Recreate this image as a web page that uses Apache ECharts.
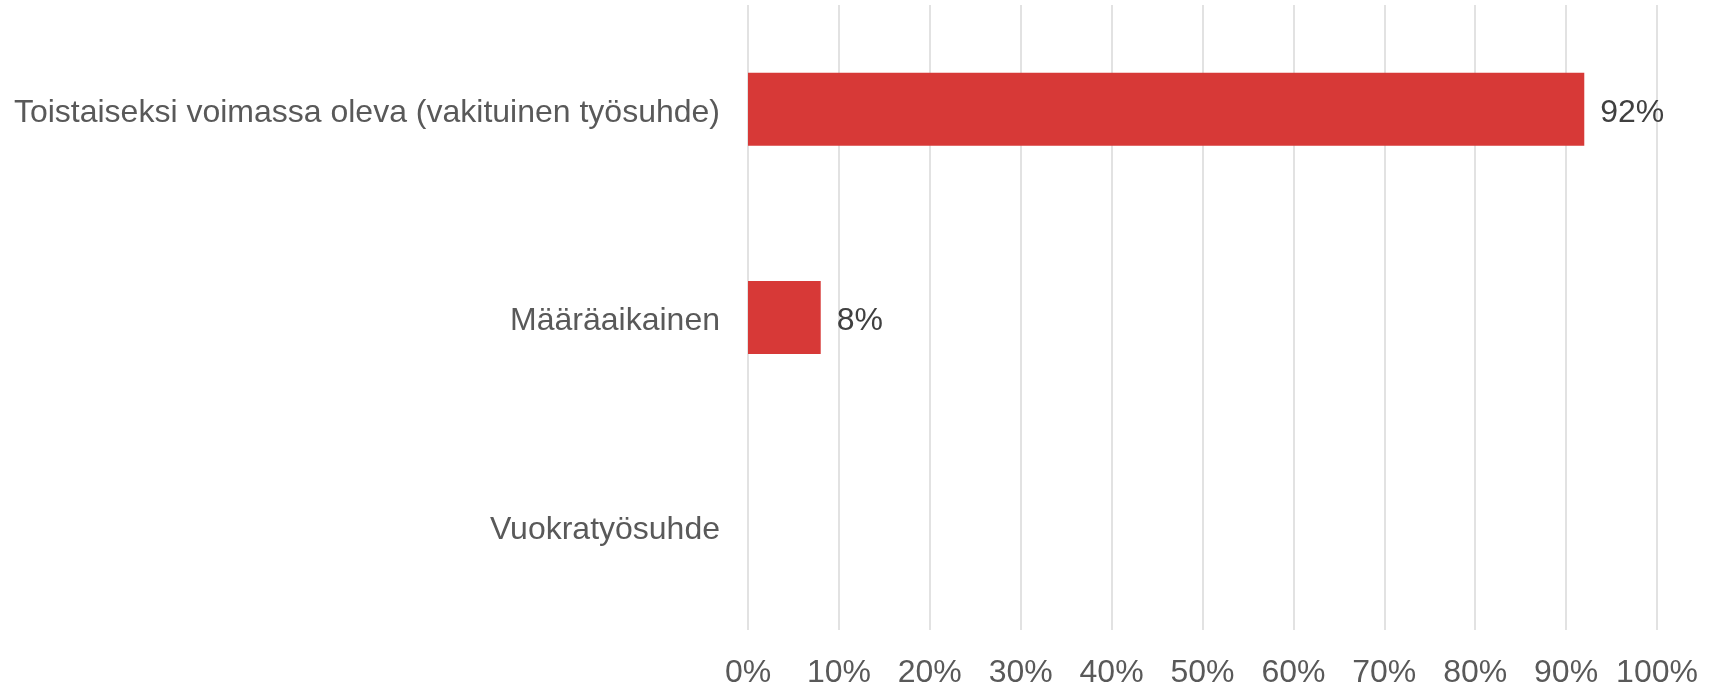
<!DOCTYPE html>
<html>
<head>
<meta charset="utf-8">
<script src="https://cdn.jsdelivr.net/npm/echarts@6/dist/echarts.min.js"></script>
<style>
  html, body { margin: 0; padding: 0; background: #fff; }
  #chart { width: 1714px; height: 684px; }
</style>
</head>
<body>
<div id="chart"></div>
<script>
// työsuhteen tyyppi, osuus vastaajista (%)
const categories = [
  'Toistaiseksi voimassa oleva (vakituinen työsuhde)',
  'Määräaikainen',
  'Vuokratyösuhde'
]
const shares = [92, 8, null]
const tickLabels = ['0%', '10%', '20%', '30%', '40%', '50%', '60%', '70%', '80%', '90%', '100%']

const chart = echarts.init(document.getElementById('chart'))
chart.setOption({
  animation: false,
  textStyle: { fontFamily: 'Liberation Sans, Arial, sans-serif' },
  grid: {
    left: 748,
    right: 57,
    top: 5,
    bottom: 54,
    outerBoundsMode: 'none'
  },
  xAxis: {
    type: 'value',
    min: 0,
    max: 100,
    interval: 10,
    axisLine: { show: false },
    axisTick: { show: false },
    splitLine: { lineStyle: { color: '#d9d9d9', width: 1.5 } },
    axisLabel: {
      color: '#595959',
      fontSize: 32,
      margin: 27,
      formatter: v => tickLabels[Math.round(v / 10)]
    }
  },
  yAxis: {
    type: 'category',
    inverse: true,
    data: categories,
    axisLine: { show: false },
    axisTick: { show: false },
    axisLabel: {
      margin: 28,
      // rich-tyyli, jotta teksti laskee hieman alemmas kuten alkuperäisessä
      formatter: v => '{c|' + v + '}',
      rich: {
        c: {
          color: '#595959',
          fontSize: 32,
          padding: [8, 0, 0, 0]
        }
      }
    }
  },
  series: [
    {
      type: 'bar',
      data: shares,
      barWidth: 73,
      itemStyle: { color: '#D73937' },
      label: {
        show: true,
        position: 'right',
        distance: 16,
        offset: [0, 4],
        color: '#404040',
        fontSize: 32,
        formatter: p => p.value + '%'
      }
    }
  ]
})
</script>
</body>
</html>
